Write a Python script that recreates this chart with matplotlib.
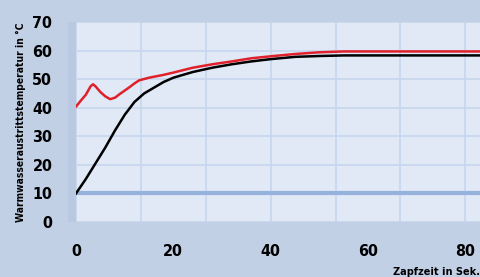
import matplotlib
matplotlib.use("Agg")
import matplotlib.pyplot as plt
import numpy as np

# Zapfzeit in Sekunden / Temperaturen in °C
t_black = [0, 2, 4, 6, 8, 10, 12, 14, 16, 18, 20, 24, 28, 32, 36, 40, 45, 50, 55, 84]
temp_black = [10, 15, 20.5, 26, 32, 37.5, 42, 45, 47, 49, 50.5, 52.5, 54, 55.2, 56.2, 57, 57.8, 58.1, 58.3, 58.3]

t_red = [0, 1, 2, 3, 3.5, 4, 5, 6, 7, 8, 9, 10, 11, 12, 13, 15, 18, 20, 24, 28, 32, 36, 40, 45, 50, 55, 84]
temp_red = [40.4, 42.5, 44.5, 47.5, 48.2, 47.5, 45.5, 44, 43, 43.5, 44.8, 46, 47.2, 48.5, 49.6, 50.5, 51.5, 52.3,
            54, 55.2, 56.2, 57.3, 58, 58.8, 59.4, 59.7, 59.7]

base_temp = 10
x_ticks = [0, 20, 40, 60, 80]
y_ticks = [0, 10, 20, 30, 40, 50, 60, 70]
x_grid = np.arange(0, 84, 80 / 6)

fig_bg = "#c2d0e6"
ax_bg = "#e1e8f6"
grid_col = "#c7d6ee"

font = {"family": "DejaVu Sans", "weight": "bold", "stretch": "condensed"}

fig = plt.figure(figsize=(4.8, 2.77), dpi=100)
fig.patch.set_facecolor(fig_bg)
ax = fig.add_axes([76 / 480, 55 / 277, 404 / 480, 200 / 277])
ax.set_facecolor(ax_bg)

# leichter Schatten links vom Diagramm
fig.patches.append(plt.Rectangle((68 / 480, 55 / 277), 8 / 480, 200 / 277, transform=fig.transFigure,
                                 facecolor="#b9c9e2", edgecolor="none", zorder=0))

for xg in x_grid:
    ax.axvline(xg, color=grid_col, lw=1.2, zorder=1)
for yg in y_ticks:
    ax.axhline(yg, color=grid_col, lw=1.2, zorder=1)
ax.axhline(base_temp, color="#94b2dc", lw=3, zorder=2)

ax.plot(t_black, temp_black, color="black", lw=1.8, zorder=3)
ax.plot(t_red, temp_red, color="#e0202a", lw=1.8, zorder=3)

ax.set_xlim(0, 83)
ax.set_ylim(0, 70)
ax.set_xticks(x_ticks)
ax.set_yticks(y_ticks)
ax.set_xticklabels([str(v) for v in x_ticks], **font, fontsize=11.5)
ax.set_yticklabels([str(v) for v in y_ticks], **font, fontsize=11.5)
ax.tick_params(axis="x", length=0, pad=16)
ax.tick_params(axis="y", length=0, pad=17)
for s in ax.spines.values():
    s.set_visible(False)

fig.text(0.043, 0.56, "Warmwasseraustrittstemperatur in °C", rotation=90, ha="center", va="center",
         fontsize=7.4, **font)
fig.text(1.0, 0.0, "Zapfzeit in Sek.", ha="right", va="bottom", fontsize=7.8, **font)

fig.savefig("out.png", dpi=100, facecolor=fig_bg)
